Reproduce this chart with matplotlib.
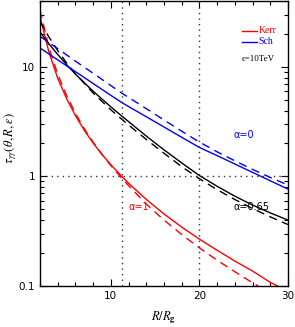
import matplotlib
matplotlib.use("Agg")
import matplotlib.pyplot as plt
from matplotlib.ticker import FixedLocator, NullFormatter, LogLocator

plt.rcParams['mathtext.fontset'] = 'stix'
plt.rcParams['font.family'] = ['DejaVu Sans']

# Kerr (a=1) red
R_red = [2, 3, 4, 5, 6, 7, 8, 9, 10, 11.25, 12, 14, 16, 18, 20, 22, 24, 26, 28, 30]
tau_red_solid = [29.0, 13.7, 7.9, 5.14, 3.6, 2.64, 2.02, 1.59, 1.28, 1.0, 0.867, 0.618,
                 0.455, 0.345, 0.268, 0.212, 0.169, 0.137, 0.108, 0.09]
tau_red_dash = [33.0, 15.1, 8.6, 5.5, 3.78, 2.73, 2.06, 1.59, 1.26, 0.96, 0.826, 0.56,
                0.40, 0.295, 0.223, 0.172, 0.135, 0.107, 0.086, 0.070]

# a=0.65 black
R_blk = [2, 3, 4, 5, 6, 8, 10, 11.25, 12, 14, 16, 18, 20, 22, 24, 26, 28, 30]
tau_blk_solid = [20.8, 16.3, 13.0, 10.5, 8.6, 6.0, 4.32, 3.55, 3.17, 2.34, 1.75, 1.33,
                 1.02, 0.814, 0.661, 0.548, 0.465, 0.40]
tau_blk_dash = [26.0, 18.8, 14.1, 10.9, 8.67, 5.78, 4.06, 3.32, 2.95, 2.18, 1.63, 1.23,
                0.954, 0.758, 0.616, 0.510, 0.428, 0.364]

# Sch (a=0) blue
R_blu = [2, 4, 6, 8, 10, 11.25, 12, 14, 16, 18, 20, 22, 24, 26, 28, 30]
tau_blu_solid = [14.9, 11.6, 9.06, 7.06, 5.5, 4.72, 4.35, 3.51, 2.83, 2.28, 1.84, 1.55,
                 1.30, 1.09, 0.914, 0.767]
tau_blu_dash = [19.0, 14.7, 11.3, 8.75, 6.76, 5.75, 5.27, 4.16, 3.28, 2.59, 2.06, 1.68,
                1.39, 1.16, 0.98, 0.836]

ref_R = [11.25, 20]
ref_tau = 1.0

xticks = [10, 20, 30]
yticks = [0.1, 1, 10]
yticklabels = ['0.1', '1', '10']

fig = plt.figure(figsize=(2.95, 3.27), dpi=100)
ax = fig.add_axes([0.1356, 0.1254, 0.976 - 0.1356, 0.997 - 0.1254])

lw = 1.0
dash = (6, 4)
ax.plot(R_red, tau_red_solid, color='#ff0000', lw=lw)
ax.plot(R_red, tau_red_dash, color='#ff0000', lw=lw, dashes=dash)
ax.plot(R_blk, tau_blk_solid, color='black', lw=lw)
ax.plot(R_blk, tau_blk_dash, color='black', lw=lw, dashes=dash)
ax.plot(R_blu, tau_blu_solid, color='#0000ff', lw=lw)
ax.plot(R_blu, tau_blu_dash, color='#0000ff', lw=lw, dashes=dash)

for r in ref_R:
    ax.axvline(r, color='#333333', lw=1.0, ls=(0, (1, 3)))
ax.axhline(ref_tau, color='#333333', lw=1.0, ls=(0, (1, 3)))

ax.set_yscale('log')
ax.set_xlim(2, 30)
ax.set_ylim(0.1, 40)

ax.xaxis.set_major_locator(FixedLocator(xticks))
ax.xaxis.set_minor_locator(FixedLocator([x for x in range(2, 31, 2) if x not in xticks]))
ax.yaxis.set_major_locator(FixedLocator(yticks))
ax.set_yticklabels(yticklabels)
ax.yaxis.set_minor_locator(LogLocator(base=10, subs=range(2, 10), numticks=20))
ax.yaxis.set_minor_formatter(NullFormatter())

ax.tick_params(which='both', direction='in', top=True, right=True, labelsize=7.5,
               width=0.8, colors='black')
ax.tick_params(which='major', length=5)
ax.tick_params(which='minor', length=3)
for s in ax.spines.values():
    s.set_linewidth(1.0)

ax.set_xlabel(r'$R/R_{\mathbf{g}}$', fontsize=9, labelpad=6)
ax.set_ylabel(r'$\tau_{\gamma\gamma}(\theta,R,\epsilon)$', fontsize=9)
ax.yaxis.set_label_coords(-0.085, 0.52)

# legend
ax.plot([24.8, 26.5], [21.5, 21.5], color='#ff0000', lw=lw)
ax.plot([24.8, 26.5], [17.0, 17.0], color='#0000ff', lw=lw)
ax.text(26.7, 21.5, 'Kerr', color='#ff0000', fontsize=7, family='Liberation Serif',
        va='center', ha='left')
ax.text(26.7, 17.0, 'Sch', color='#0000ff', fontsize=7, family='Liberation Serif',
        va='center', ha='left')
ax.text(24.8, 11.8, '\u03f5=10TeV', color='black', fontsize=6.5, family='Liberation Serif',
        va='center', ha='left')

ax.text(23.9, 2.4, '\u03b1=0', color='#0000ff', fontsize=7, va='center', ha='left')
ax.text(23.9, 0.53, '\u03b1=0.65', color='black', fontsize=7, va='center', ha='left')
ax.text(12.0, 0.53, '\u03b1=1', color='#ff0000', fontsize=7, va='center', ha='left')

fig.savefig('out.png', dpi=100)
